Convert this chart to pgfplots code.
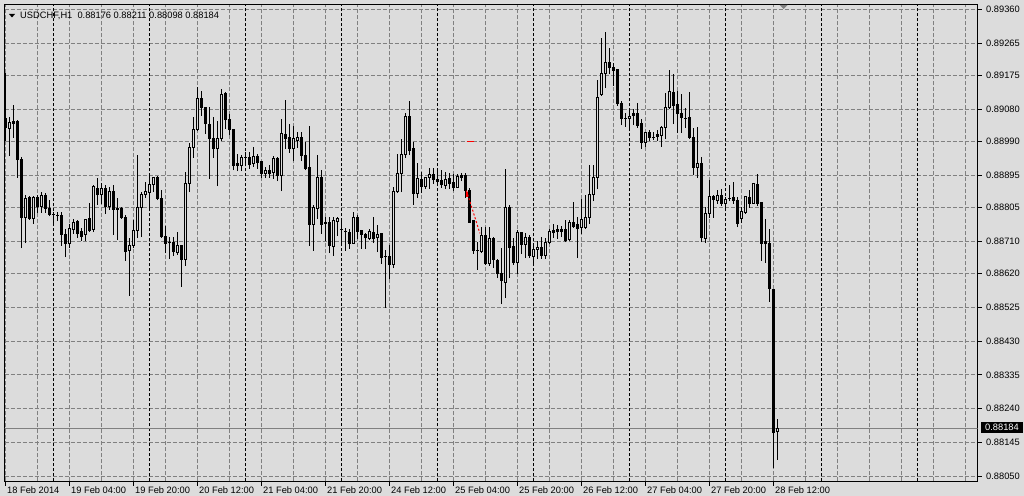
\documentclass[border=0pt]{standalone}
\usepackage{fontspec}
\setmainfont{Liberation Sans}
\usepackage{pgfplots}
\usepackage{pgfplotstable}
\pgfplotsset{compat=1.18}
\definecolor{bgc}{RGB}{220,220,220}
\definecolor{gridc}{RGB}{128,128,128}
\pgfplotstableread{
i o h l c
0 0.89054 0.89180 0.88993 0.89029
1 0.89026 0.89057 0.88950 0.89043
2 0.89046 0.89091 0.89001 0.89040
3 0.89046 0.89049 0.88889 0.88939
4 0.88939 0.88945 0.88692 0.88777
5 0.88777 0.88838 0.88706 0.88830
6 0.88833 0.88835 0.88771 0.88774
7 0.88774 0.88835 0.88760 0.88833
8 0.88833 0.88838 0.88791 0.88807
9 0.88807 0.88847 0.88791 0.88838
10 0.88838 0.88844 0.88791 0.88802
11 0.88802 0.88824 0.88782 0.88785
12 0.88785 0.88791 0.88757 0.88785
13 0.88782 0.88791 0.88768 0.88782
14 0.88782 0.88791 0.88698 0.88729
15 0.88729 0.88743 0.88667 0.88704
16 0.88704 0.88757 0.88692 0.88746
17 0.88743 0.88771 0.88732 0.88763
18 0.88765 0.88768 0.88720 0.88732
19 0.88737 0.88746 0.88712 0.88723
20 0.88729 0.88771 0.88712 0.88771
21 0.88774 0.88816 0.88737 0.88740
22 0.88743 0.88866 0.88737 0.88864
23 0.88858 0.88886 0.88813 0.88841
24 0.88841 0.88872 0.88816 0.88858
25 0.88858 0.88866 0.88788 0.88807
26 0.88807 0.88861 0.88799 0.88849
27 0.88849 0.88866 0.88729 0.88799
28 0.88802 0.88830 0.88715 0.88799
29 0.88802 0.88805 0.88774 0.88777
30 0.88777 0.88782 0.88656 0.88681
31 0.88684 0.88718 0.88558 0.88698
32 0.88698 0.88768 0.88692 0.88740
33 0.88740 0.88950 0.88720 0.88805
34 0.88805 0.88847 0.88723 0.88841
35 0.88841 0.88875 0.88833 0.88849
36 0.88847 0.88894 0.88805 0.88869
37 0.88869 0.88889 0.88849 0.88889
38 0.88889 0.88892 0.88827 0.88830
39 0.88830 0.88852 0.88720 0.88723
40 0.88723 0.88751 0.88678 0.88704
41 0.88706 0.88720 0.88662 0.88706
42 0.88706 0.88720 0.88670 0.88681
43 0.88678 0.88734 0.88673 0.88698
44 0.88698 0.88698 0.88583 0.88659
45 0.88659 0.88903 0.88642 0.88872
46 0.88872 0.88984 0.88849 0.88973
47 0.88973 0.89057 0.88945 0.89023
48 0.89023 0.89141 0.89021 0.89110
49 0.89110 0.89130 0.89063 0.89085
50 0.89085 0.89085 0.89012 0.89040
51 0.89037 0.89085 0.88886 0.88998
52 0.88998 0.89057 0.88945 0.88970
53 0.88970 0.89046 0.88866 0.88998
54 0.88998 0.89136 0.88993 0.89122
55 0.89124 0.89127 0.89026 0.89051
56 0.89051 0.89065 0.89009 0.89023
57 0.89023 0.89023 0.88911 0.88922
58 0.88928 0.88953 0.88908 0.88922
59 0.88922 0.88950 0.88908 0.88945
60 0.88945 0.88959 0.88928 0.88945
61 0.88945 0.88959 0.88914 0.88925
62 0.88928 0.88973 0.88920 0.88948
63 0.88948 0.88953 0.88914 0.88931
64 0.88934 0.88934 0.88889 0.88900
65 0.88900 0.88917 0.88889 0.88908
66 0.88908 0.88922 0.88889 0.88900
67 0.88903 0.88948 0.88886 0.88942
68 0.88942 0.88945 0.88880 0.88894
69 0.88894 0.89051 0.88852 0.89012
70 0.89009 0.89105 0.88970 0.88998
71 0.89001 0.89037 0.88959 0.88970
72 0.88970 0.89032 0.88936 0.88998
73 0.88993 0.89015 0.88973 0.89001
74 0.89001 0.89015 0.88936 0.88950
75 0.88950 0.88987 0.88911 0.88914
76 0.88917 0.89032 0.88698 0.88757
77 0.88757 0.88810 0.88684 0.88805
78 0.88802 0.88950 0.88774 0.88889
79 0.88889 0.88908 0.88732 0.88757
80 0.88763 0.88777 0.88712 0.88760
81 0.88763 0.88777 0.88678 0.88698
82 0.88695 0.88777 0.88670 0.88768
83 0.88765 0.88777 0.88726 0.88774
84 0.88743 0.88774 0.88704 0.88743
85 0.88737 0.88746 0.88684 0.88737
86 0.88734 0.88743 0.88690 0.88704
87 0.88704 0.88791 0.88704 0.88777
88 0.88777 0.88782 0.88718 0.88737
89 0.88740 0.88740 0.88690 0.88729
90 0.88729 0.88732 0.88690 0.88720
91 0.88718 0.88743 0.88715 0.88737
92 0.88734 0.88777 0.88706 0.88718
93 0.88720 0.88754 0.88681 0.88729
94 0.88732 0.88732 0.88648 0.88664
95 0.88667 0.88684 0.88524 0.88667
96 0.88667 0.88698 0.88605 0.88645
97 0.88645 0.88861 0.88636 0.88849
98 0.88849 0.88953 0.88847 0.88900
99 0.88900 0.88995 0.88849 0.88953
100 0.88953 0.89068 0.88945 0.89060
101 0.89060 0.89102 0.88953 0.88964
102 0.88970 0.88987 0.88813 0.88844
103 0.88844 0.88928 0.88833 0.88886
104 0.88883 0.88903 0.88847 0.88864
105 0.88864 0.88889 0.88858 0.88889
106 0.88889 0.88914 0.88858 0.88897
107 0.88897 0.88914 0.88872 0.88883
108 0.88883 0.88906 0.88872 0.88878
109 0.88880 0.88908 0.88861 0.88869
110 0.88866 0.88903 0.88858 0.88883
111 0.88886 0.88900 0.88858 0.88872
112 0.88875 0.88897 0.88852 0.88861
113 0.88861 0.88897 0.88861 0.88892
114 0.88894 0.88900 0.88880 0.88889
115 0.88894 0.88900 0.88833 0.88852
116 0.88852 0.88858 0.88763 0.88763
117 0.88768 0.88768 0.88676 0.88684
118 0.88684 0.88706 0.88631 0.88684
119 0.88681 0.88749 0.88678 0.88726
120 0.88726 0.88749 0.88645 0.88648
121 0.88648 0.88749 0.88642 0.88718
122 0.88718 0.88720 0.88636 0.88659
123 0.88656 0.88659 0.88608 0.88619
124 0.88619 0.88690 0.88535 0.88600
125 0.88594 0.88911 0.88552 0.88805
126 0.88805 0.88810 0.88608 0.88692
127 0.88695 0.88718 0.88645 0.88650
128 0.88650 0.88740 0.88619 0.88734
129 0.88734 0.88734 0.88676 0.88701
130 0.88701 0.88732 0.88664 0.88720
131 0.88720 0.88726 0.88664 0.88670
132 0.88667 0.88701 0.88650 0.88687
133 0.88687 0.88709 0.88662 0.88692
134 0.88692 0.88720 0.88662 0.88670
135 0.88670 0.88718 0.88662 0.88706
136 0.88706 0.88743 0.88704 0.88737
137 0.88740 0.88757 0.88720 0.88734
138 0.88743 0.88754 0.88718 0.88737
139 0.88743 0.88751 0.88723 0.88737
140 0.88743 0.88768 0.88709 0.88712
141 0.88715 0.88768 0.88712 0.88763
142 0.88763 0.88819 0.88749 0.88751
143 0.88757 0.88777 0.88664 0.88746
144 0.88749 0.88827 0.88732 0.88771
145 0.88749 0.88838 0.88746 0.88777
146 0.88777 0.88922 0.88760 0.88841
147 0.88841 0.88922 0.88824 0.88889
148 0.88889 0.89161 0.88858 0.89113
149 0.89122 0.89279 0.89119 0.89180
150 0.89180 0.89295 0.89141 0.89211
151 0.89211 0.89251 0.89180 0.89197
152 0.89197 0.89209 0.89147 0.89189
153 0.89192 0.89192 0.89091 0.89096
154 0.89096 0.89102 0.89037 0.89054
155 0.89054 0.89068 0.89032 0.89054
156 0.89054 0.89077 0.89026 0.89060
157 0.89068 0.89080 0.89037 0.89063
158 0.89068 0.89096 0.89029 0.89035
159 0.89040 0.89051 0.88970 0.88987
160 0.88987 0.89015 0.88976 0.89015
161 0.89015 0.89021 0.88993 0.89001
162 0.89001 0.89015 0.88995 0.89001
163 0.89009 0.89021 0.88993 0.89004
164 0.89007 0.89032 0.88976 0.89029
165 0.89029 0.89124 0.88998 0.89085
166 0.89085 0.89189 0.89082 0.89130
167 0.89127 0.89178 0.89040 0.89091
168 0.89094 0.89130 0.89015 0.89068
169 0.89068 0.89122 0.89015 0.89057
170 0.89054 0.89082 0.89029 0.89054
171 0.89057 0.89127 0.88998 0.89001
172 0.89001 0.89026 0.88897 0.88917
173 0.88917 0.89029 0.88889 0.88928
174 0.88928 0.88945 0.88709 0.88720
175 0.88718 0.88805 0.88706 0.88788
176 0.88788 0.88880 0.88777 0.88835
177 0.88835 0.88838 0.88777 0.88827
178 0.88824 0.88852 0.88816 0.88838
179 0.88838 0.88855 0.88810 0.88816
180 0.88816 0.88833 0.88805 0.88827
181 0.88830 0.88866 0.88824 0.88830
182 0.88833 0.88875 0.88816 0.88824
183 0.88824 0.88833 0.88751 0.88760
184 0.88774 0.88805 0.88763 0.88793
185 0.88791 0.88835 0.88788 0.88835
186 0.88833 0.88852 0.88805 0.88816
187 0.88816 0.88872 0.88816 0.88872
188 0.88869 0.88897 0.88810 0.88816
189 0.88819 0.88819 0.88656 0.88704
190 0.88709 0.88771 0.88650 0.88704
191 0.88704 0.88743 0.88541 0.88577
192 0.88575 0.88575 0.88075 0.88173
193 0.88176 0.88211 0.88098 0.88184
}\candles

\begin{document}
\begin{tikzpicture}
\useasboundingbox (0,0) rectangle (1024bp,496bp);
\fill[bgc] (0,0) rectangle (1024bp,496bp);
\begin{axis}[
  at={(4.5bp,14.5bp)}, anchor=south west,
  scale only axis, width=973bp, height=477bp,
  xmin=-0.25, xmax=243, ymin=0.88036, ymax=0.89374,
  axis background/.style={fill=bgc},
  axis line style={black, line width=1bp},
  tick align=outside, major tick length=4bp, minor tick length=0pt,
  tick style={black, line width=1bp},
  xtick pos=left, ytick pos=right, yticklabel pos=right,
  xtick={0,16,32,48,64,80,96,112,128,144,160,176,192},
  xticklabels={18 Feb 2014,19 Feb 04:00,19 Feb 20:00,20 Feb 12:00,21 Feb 04:00,21 Feb 20:00,24 Feb 12:00,25 Feb 04:00,25 Feb 20:00,26 Feb 12:00,27 Feb 04:00,27 Feb 20:00,28 Feb 12:00},
  minor xtick={8,24,40,56,72,88,104,120,136,152,168,184,200,208,216,224,232,240},
  ytick={0.8805,0.88145,0.8824,0.88335,0.8843,0.88525,0.8862,0.8871,0.88805,0.88895,0.8899,0.8908,0.89175,0.89265,0.8936},
  yticklabels={0.88050,0.88145,0.88240,0.88335,0.88430,0.88525,0.88620,0.88710,0.88805,0.88895,0.88990,0.89080,0.89175,0.89265,0.89360},
  tick label style={font=\fontsize{9.3bp}{11bp}\selectfont, text=black},
  xticklabel style={anchor=base west, inner sep=0pt, xshift=1.5bp, yshift=-8bp},
  yticklabel style={anchor=west, inner sep=0pt, xshift=4.5bp},
  xmajorgrids, xminorgrids, ymajorgrids,
  major grid style={gridc, line width=1bp, dash pattern=on 4bp off 2bp},
  minor grid style={gridc, line width=1bp, dash pattern=on 4bp off 2bp},
  extra x ticks={12,36,60,84,108,132,156,180,204,228},
  extra x tick labels={},
  extra x tick style={grid=major, major tick length=0pt, major grid style={black, line width=1bp, dash pattern=on 3bp off 2bp}},
]
% bid line
\addplot[gridc, line width=1bp, mark=none, forget plot] coordinates {(-1,0.88184) (244,0.88184)};
% wicks
\addplot[draw=none, mark=none, forget plot,
  error bars/.cd, y dir=plus, y explicit, error mark=none,
  error bar style={draw=black, solid, line width=1bp}]
  table[x=i, y expr={\thisrow{l}-0.000014}, y error plus expr={\thisrow{h}-\thisrow{l}+0.000028}] {\candles};
% bodies
\addplot[draw=none, mark=none, forget plot,
  error bars/.cd, y dir=plus, y explicit, error mark=none,
  error bar style={draw=black, solid, line width=3bp}]
  table[x=i, y expr={min(\thisrow{o},\thisrow{c})-0.000014}, y error plus expr={abs(\thisrow{c}-\thisrow{o})+0.000028}] {\candles};
% hollow interiors of rising candles
\addplot[draw=none, mark=none, forget plot,
  error bars/.cd, y dir=plus, y explicit, error mark=none,
  error bar style={draw=bgc, solid, line width=1bp}]
  table[x=i, y expr={\thisrow{o}+0.000014}, y error plus expr={max(0,\thisrow{c}-\thisrow{o}-0.000028)}] {\candles};
% red trade marks
\addplot[red, mark=none, line width=1bp, dash pattern=on 2bp off 2bp, forget plot] coordinates {(115.25,0.88852) (118.6,0.88732)};
\addplot[red, mark=none, line width=2bp, forget plot] coordinates {(115.3,0.88849) (115.3,0.88833)};
\addplot[red, mark=none, line width=1bp, forget plot] coordinates {(115.25,0.88990) (117,0.88990)};
\end{axis}
% header
\fill[black] (9bp,482bp) -- (15bp,482bp) -- (12bp,478.5bp) -- cycle;
\node[anchor=base west, inner sep=0pt, font=\fontsize{9.3bp}{11bp}\selectfont] at (20bp,477.5bp) {USDCHF,H1\ \ 0.88176 0.88211 0.88098 0.88184};
\fill[gridc] (779.5bp,491bp) -- (787.5bp,491bp) -- (783.5bp,487bp) -- cycle;
% bid price label
\node[anchor=west, fill=black, text=white, inner xsep=4bp, inner ysep=1.8bp, font=\fontsize{9.3bp}{11bp}\selectfont] at (981bp,68.5bp) {0.88184};
\end{tikzpicture}
\end{document}
